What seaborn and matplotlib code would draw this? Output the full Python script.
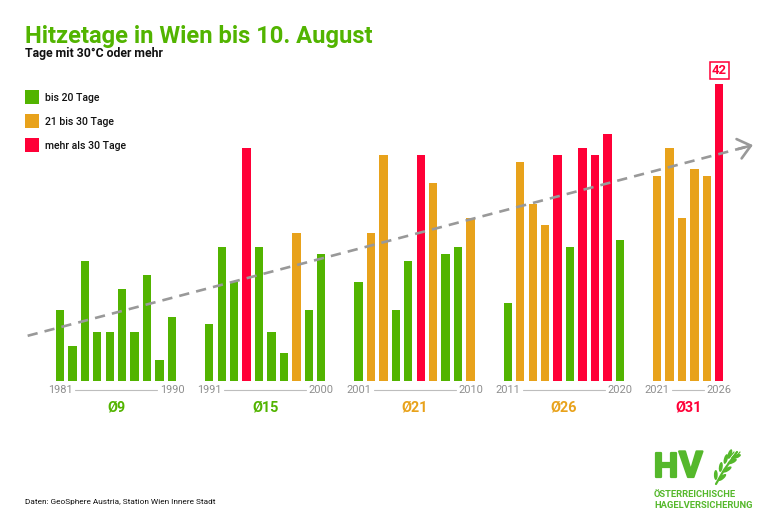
import numpy as np
import pandas as pd
import matplotlib
matplotlib.use("Agg")
import matplotlib.pyplot as plt
import matplotlib.patheffects as pe
import seaborn as sns
from matplotlib.patches import Rectangle, Ellipse

# ---------------- data ----------------
years = list(range(1981, 2027))
days = [10, 5, 17, 7, 7, 13, 7, 15, 3, 9,
        8, 19, 14, 33, 19, 7, 4, 21, 10, 18,
        14, 21, 32, 10, 17, 32, 28, 18, 19, 23,
        11, 31, 25, 22, 32, 19, 33, 32, 35, 20,
        29, 33, 23, 30, 29, 42]
G, O, R = "bis 20 Tage", "21 bis 30 Tage", "mehr als 30 Tage"
classes = [G, G, G, G, G, G, G, G, G, G,
           G, G, G, R, G, G, G, O, G, G,
           G, O, O, G, G, R, O, G, G, O,
           G, O, O, O, R, G, R, R, R, G,
           O, O, O, O, O, R]
categories = [G, O, R]
decades = [(1981, 1990), (1991, 2000), (2001, 2010), (2011, 2020), (2021, 2026)]
title = "Hitzetage in Wien bis 10. August"
subtitle = "Tage mit 30°C oder mehr"
source = "Daten: GeoSphere Austria, Station Wien Innere Stadt"

# ---------------- style ----------------
palette = {G: "#52B400", O: "#E8A21B", R: "#FF0037"}
GRAY = "#999999"
W, H = 778, 529
PX_X, PX_Y = 12.44, 7.07          # pixels per slot / per day
X0, Y0 = 60, 381                  # pixel of slot 0 / value 0

sns.set_theme(style="white")
plt.rcParams["font.family"] = ["Roboto", "DejaVu Sans"]

def pt(px):
    return px * 0.72

def slot_of(y):
    k = y - 1981
    return k + 2 * (k // 10)

df = pd.DataFrame({"year": years, "days": days, "klasse": classes})
df["slot"] = [slot_of(y) for y in years]

fig = plt.figure(figsize=(W / 100, H / 100), dpi=100)
fig.patch.set_facecolor("white")
ax = fig.add_axes([0, 0, 1, 1])
ax.set_xlim(-X0 / PX_X, (W - X0) / PX_X)
ax.set_ylim(-(H - Y0) / PX_Y, Y0 / PX_Y)
ax.axis("off")

sns.barplot(data=df, x="slot", y="days", hue="klasse", hue_order=categories,
            palette=palette, native_scale=True, dodge=False, width=0.67,
            saturation=1, linewidth=0, legend=False, ax=ax, zorder=2)

# trend line (least squares fit over slots)
coef = np.polyfit(df["slot"], df["days"], 1)
f = np.poly1d(coef)
tx0, tx1 = -2.6, 55.7
ax.plot([tx0, tx1 - 0.3], [f(tx0), f(tx1 - 0.3)], color=GRAY, lw=1.9,
        ls=(0, (3.9, 2.7)), zorder=3, solid_capstyle="butt")
ax.annotate("", xy=(tx1, f(tx1)), xytext=(tx1 - 1.2, f(tx1 - 1.2)),
            arrowprops=dict(arrowstyle="->,head_length=0.55,head_width=0.45",
                            color=GRAY, lw=1.9, mutation_scale=16,
                            shrinkA=0, shrinkB=0), zorder=3)

# decade axis labels and averages
ylab = -(390 - Y0) / PX_Y
yavg = -(411 - Y0) / PX_Y
gap = 15 / PX_X
for a, b in decades:
    sa, sb = slot_of(a), slot_of(b)
    for s, lab in ((sa, a), (sb, b)):
        ax.text(s, ylab, str(lab), ha="center", va="center", color="#8E8E8E",
                fontsize=pt(11), fontweight="normal")
    ax.plot([sa + gap, sb - gap], [ylab, ylab], color="#BDBDBD", lw=0.8)
    sub = df[(df.year >= a) & (df.year <= b)]
    avg = int(round(sub["days"].mean()))
    col = palette[G] if avg <= 20 else (palette[O] if avg <= 30 else palette[R])
    ax.text(sub["slot"].mean(), yavg, f"Ø{avg}", ha="center", va="baseline",
            color=col, fontsize=pt(14.5), fontweight="bold")

# value label of the latest year
last = df.iloc[-1]
ax.annotate(f"{last.days}", xy=(last.slot, last.days), xytext=(0, pt(14)),
            textcoords="offset points", ha="center", va="center",
            color=palette[R], fontsize=pt(13), fontweight="bold",
            bbox=dict(boxstyle="square,pad=0.15", fc="white",
                      ec=palette[R], lw=1.1), zorder=4)

# ---------------- overlay in pixel coordinates ----------------
ov = fig.add_axes([0, 0, 1, 1], facecolor="none")
ov.set_xlim(0, W)
ov.set_ylim(H, 0)
ov.axis("off")

ov.text(25, 43.3, title, color="#52B400", fontsize=pt(23.7),
        fontweight="bold", va="baseline", ha="left")
ov.text(25, 57.3, subtitle, color="#111111", fontsize=pt(12.3),
        fontweight="bold", va="baseline", ha="left")

for i, c in enumerate(categories):
    top = 90 + i * 24
    ov.add_patch(Rectangle((25, top), 14, 14, color=palette[c], lw=0))
    ov.text(45, top + 11.3, c, color="#111111", fontsize=pt(10.5),
            fontweight="medium", va="baseline", ha="left")

ov.text(25, 504, source, color="#111111", fontsize=pt(8.3),
        va="baseline", ha="left")

# logo
LG = "#55B82B"
bold_fx = [pe.withStroke(linewidth=1.6, foreground=LG)]
ov.text(654, 477, "H", color=LG, fontsize=pt(34), fontweight="bold",
        va="baseline", ha="left", path_effects=bold_fx)
ov.text(679, 477, "V", color=LG, fontsize=pt(36), fontweight="bold",
        va="baseline", ha="left", path_effects=bold_fx)
ov.plot([716, 724, 737], [484, 470, 452], color=LG, lw=1.6,
        solid_capstyle="round")
for (cx, cy, ang) in [(719, 476, 70), (724, 468, 62), (729, 460, 55),
                      (733, 455, 50)]:
    ov.add_patch(Ellipse((cx - 3.2, cy - 1), 10, 3.8, angle=-ang - 20,
                         color=LG, lw=0))
    ov.add_patch(Ellipse((cx + 3.2, cy + 1.5), 10, 3.8, angle=-ang + 30,
                         color=LG, lw=0))
for k in range(4):
    ov.plot([726 + 3 * k, 731 + 3 * k], [458, 452], color=LG, lw=0.9)
ov.text(654, 497, "ÖSTERREICHISCHE", color=LG, fontsize=pt(9.4),
        fontweight="bold", va="baseline", ha="left")
ov.text(654, 507.5, "HAGELVERSICHERUNG", color=LG, fontsize=pt(9.4),
        fontweight="bold", va="baseline", ha="left")

fig.savefig("out.png", dpi=100, facecolor="white")
